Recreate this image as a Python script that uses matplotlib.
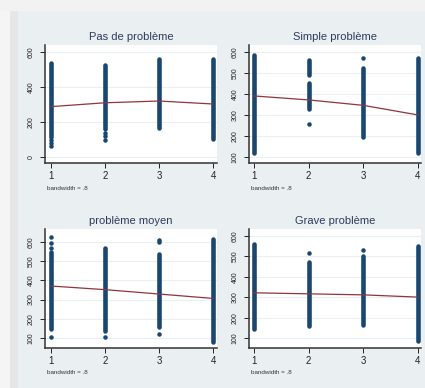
import matplotlib.pyplot as plt
from matplotlib.patches import Rectangle

plt.rcParams['font.family'] = ['Liberation Sans', 'DejaVu Sans']

# Panel titles and y ticks
titles = ["Pas de problème", "Simple problème", "problème moyen", "Grave problème"]
yticks = [[0, 200, 400, 600],
          [100, 200, 300, 400, 500, 600],
          [100, 200, 300, 400, 500, 600],
          [100, 200, 300, 400, 500, 600]]
xticks = [1, 2, 3, 4]

# Dense columns of dots: x, lowest and highest value
p1_band_x = [1, 2, 3, 4]
p1_band_lo = [115, 160, 165, 105]
p1_band_hi = [535, 525, 560, 560]
p1_pts_x = [1, 1, 1, 2, 2, 2]
p1_pts_y = [95, 78, 62, 135, 118, 100]
p1_lowess = [288, 310, 320, 303]

p2_band_x = [1, 2, 2, 3, 4]
p2_band_lo = [120, 490, 330, 195, 120]
p2_band_hi = [585, 565, 455, 525, 572]
p2_pts_x = [2, 3]
p2_pts_y = [255, 572]
p2_lowess = [391, 372, 346, 300]

p3_band_x = [1, 2, 3, 4]
p3_band_lo = [145, 135, 155, 80]
p3_band_hi = [550, 570, 540, 615]
p3_pts_x = [1, 1, 1, 1, 2, 3, 3, 3]
p3_pts_y = [630, 595, 572, 105, 105, 612, 603, 118]
p3_lowess = [371, 352, 329, 306]

p4_band_x = [1, 2, 3, 4]
p4_band_lo = [145, 160, 165, 85]
p4_band_hi = [560, 470, 502, 548]
p4_pts_x = [2, 3]
p4_pts_y = [517, 533]
p4_lowess = [322, 317, 312, 301]

bands = [(p1_band_x, p1_band_lo, p1_band_hi), (p2_band_x, p2_band_lo, p2_band_hi),
         (p3_band_x, p3_band_lo, p3_band_hi), (p4_band_x, p4_band_lo, p4_band_hi)]
points = [(p1_pts_x, p1_pts_y), (p2_pts_x, p2_pts_y), (p3_pts_x, p3_pts_y), (p4_pts_x, p4_pts_y)]
lowess = [p1_lowess, p2_lowess, p3_lowess, p4_lowess]

W, H = 425, 388
# axes boxes in pixels: left, top, right, bottom
boxes = [(45, 45, 217, 163), (249, 45, 421, 163), (45, 229, 217, 348), (249, 229, 421, 348)]
xlims = [(0.889, 4.074), (0.909, 4.055), (0.889, 4.074), (0.909, 4.055)]
ylims = [(-34, 640), (70, 635), (46, 670), (53, 633)]

NAVY = '#1a476f'
MAROON = '#90353b'
BG = '#eaf0f2'

fig = plt.figure(figsize=(W / 100, H / 100), dpi=100, facecolor=BG)
# light border strips on the top and left
fig.add_artist(Rectangle((0, 0), 17 / W, 1, transform=fig.transFigure, color='#e6e6e6', zorder=-5))
fig.add_artist(Rectangle((0, 0), 9 / W, 1, transform=fig.transFigure, color='#f5f5f5', zorder=-4))
fig.add_artist(Rectangle((0, 1 - 10 / H), 1, 10 / H, transform=fig.transFigure, color='#f2f2f2', zorder=-4))

for i in range(4):
    l, t, r, b = boxes[i]
    ax = fig.add_axes([l / W, 1 - b / H, (r - l) / W, (b - t) / H])
    ax.set_facecolor('white')
    bx, lo, hi = bands[i]
    for x, y0, y1 in zip(bx, lo, hi):
        ax.plot([x, x], [y0, y1], color=NAVY, lw=3.3, solid_capstyle='round', zorder=2)
    px, py = points[i]
    ax.scatter(px, py, s=10.5, color=NAVY, linewidths=0, zorder=2)
    ax.plot(xticks, lowess[i], color=MAROON, lw=0.9, zorder=3)

    ax.set_xlim(*xlims[i])
    ax.set_ylim(*ylims[i])
    ax.set_xticks(xticks)
    ax.set_yticks(yticks[i])
    ax.grid(axis='y', color=BG, lw=0.8, zorder=0)
    ax.set_axisbelow(True)
    for s in ['top', 'right']:
        ax.spines[s].set_visible(False)
    for s in ['left', 'bottom']:
        ax.spines[s].set_color('#333333')
        ax.spines[s].set_linewidth(1.1)
    ax.tick_params(axis='x', labelsize=7, length=3.6, width=0.7, pad=2.5, colors='#222222')
    ax.tick_params(axis='y', labelsize=5, length=3.6, width=0.7, pad=4, colors='#222222')
    for lab in ax.get_yticklabels():
        lab.set_rotation(90)
        lab.set_va('center')

    cx = (l + r) / 2
    fig.text(cx / W, 1 - (t - 8) / H, titles[i], ha='center', va='center',
             fontsize=8, color='#2d3a5a')
    fig.text((l + 2) / W, 1 - (b + 25) / H, "bandwidth = .8", ha='left', va='center',
             fontsize=4.5, color='#333333')

fig.savefig('out.png', dpi=100, facecolor=BG)
